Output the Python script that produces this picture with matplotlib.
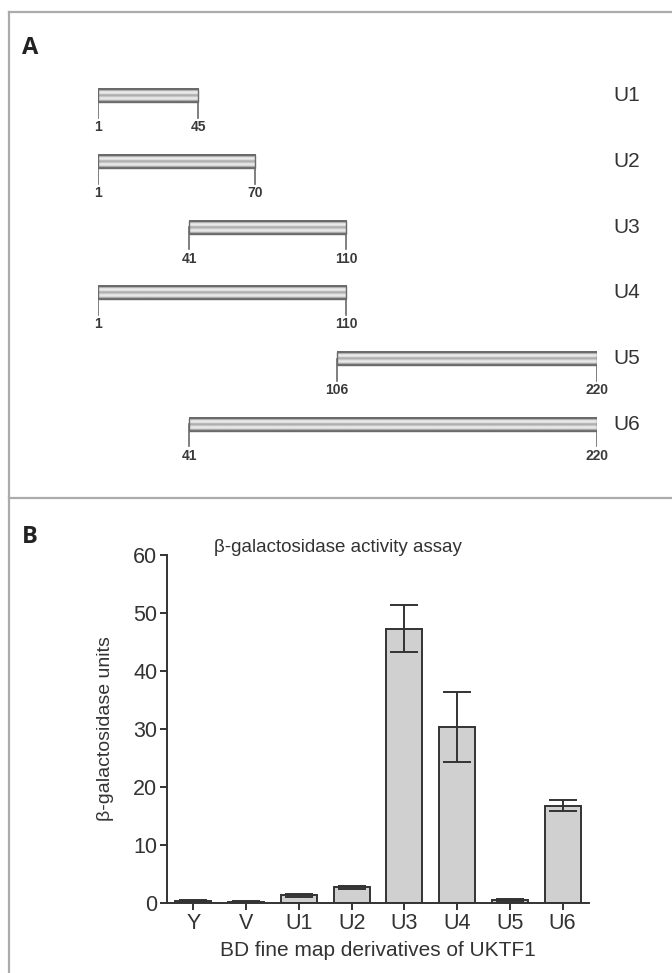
import numpy as np
import matplotlib
matplotlib.use("Agg")
import matplotlib.pyplot as plt
from matplotlib.patches import Rectangle
from matplotlib.lines import Line2D

plt.rcParams['font.family'] = ['Liberation Sans', 'DejaVu Sans']

# panel A: UKTF1 fragments (residue ranges)
constructs = ['U1', 'U2', 'U3', 'U4', 'U5', 'U6']
starts = [1, 1, 41, 1, 106, 41]
ends = [45, 70, 110, 110, 220, 220]

# panel B: beta-galactosidase activity
samples = ['Y', 'V', 'U1', 'U2', 'U3', 'U4', 'U5', 'U6']
activity = [0.3, 0.2, 1.3, 2.7, 47.3, 30.3, 0.5, 16.8]
activity_err = [0.2, 0.1, 0.3, 0.2, 4.1, 6.0, 0.2, 0.95]

W, H = 672, 973
fig = plt.figure(figsize=(W/100, H/100), dpi=100)
fig.patch.set_facecolor('white')

def fx(px): return px/W
def fy(py): return 1 - py/H

# panel frame lines
frame = '#ababab'
fig.add_artist(Line2D([fx(9), 1], [fy(12), fy(12)], color=frame, lw=1.6))
fig.add_artist(Line2D([fx(9), fx(9)], [0, fy(12)], color=frame, lw=1.6))
fig.add_artist(Line2D([fx(9), 1], [fy(498), fy(498)], color=frame, lw=1.6))

txt = '#333333'
fig.text(fx(22), fy(48), 'A', fontsize=17, fontweight='bold', family='Open Sans',
         color='#222222', va='center')
fig.text(fx(22), fy(537), 'B', fontsize=17, fontweight='bold', family='Open Sans',
         color='#222222', va='center')

# ---- panel A ----
x1px, x2px = 98, 597
top, bot = 63, 457
axA = fig.add_axes([fx(x1px), fy(bot), fx(x2px - x1px), (bot - top)/H])
axA.set_xlim(1, 220)
axA.set_ylim(5.5, -0.5)
axA.axis('off')

prof = np.array([0.42, 0.6, 0.8, 0.9, 0.93, 0.82, 0.66, 0.72, 0.86, 0.92, 0.88, 0.7, 0.45])
grad = prof[:, None]
bh = 0.2
for i, (s, e) in enumerate(zip(starts, ends)):
    axA.imshow(grad, cmap='gray', vmin=0, vmax=1, aspect='auto',
               extent=(s, e, i + bh/2, i - bh/2), interpolation='bilinear', zorder=2)
    axA.add_patch(Rectangle((s, i - bh/2), e - s, bh, fill=False,
                            edgecolor='#6a6a6a', lw=1.0, zorder=3))
    for xv in (s, e):
        axA.plot([xv, xv], [i, i + 0.34], color='#6a6a6a', lw=1.2, zorder=1)
        axA.text(xv, i + 0.48, str(xv), ha='center', va='center', fontsize=10,
                 fontweight='bold', color='#3a3a3a')
    axA.text(227, i, constructs[i], ha='left', va='center', fontsize=15,
             color=txt, clip_on=False)

# ---- panel B ----
axB = fig.add_axes([fx(167), fy(903), fx(589 - 167), (903 - 555)/H])
xs = np.arange(len(samples))
axB.bar(xs, activity, width=0.68, color='#d0d0d0', edgecolor='#333333', lw=1.4, zorder=2)
axB.errorbar(xs, activity, yerr=activity_err, fmt='none', ecolor='#333333',
             elinewidth=1.4, capsize=10, capthick=1.4, zorder=3)
axB.set_xlim(-0.5, len(samples) - 0.5)
axB.set_ylim(0, 60)
axB.set_yticks(range(0, 61, 10))
axB.set_xticks(xs)
axB.set_xticklabels(samples)
for sp in ('top', 'right'):
    axB.spines[sp].set_visible(False)
for sp in ('left', 'bottom'):
    axB.spines[sp].set_color('#333333')
    axB.spines[sp].set_linewidth(1.4)
axB.tick_params(direction='out', length=5, width=1.4, color='#333333',
                labelsize=15.5, labelcolor=txt, pad=2)
axB.set_xlabel('BD fine map derivatives of UKTF1', fontsize=15, color=txt, labelpad=5)
axB.set_ylabel('β-galactosidase units', fontsize=14, color=txt, labelpad=14)
fig.text(fx(214), fy(548), 'β-galactosidase activity assay', fontsize=13.5,
         color=txt, va='center')

fig.savefig('out.png', dpi=100, facecolor='white')
